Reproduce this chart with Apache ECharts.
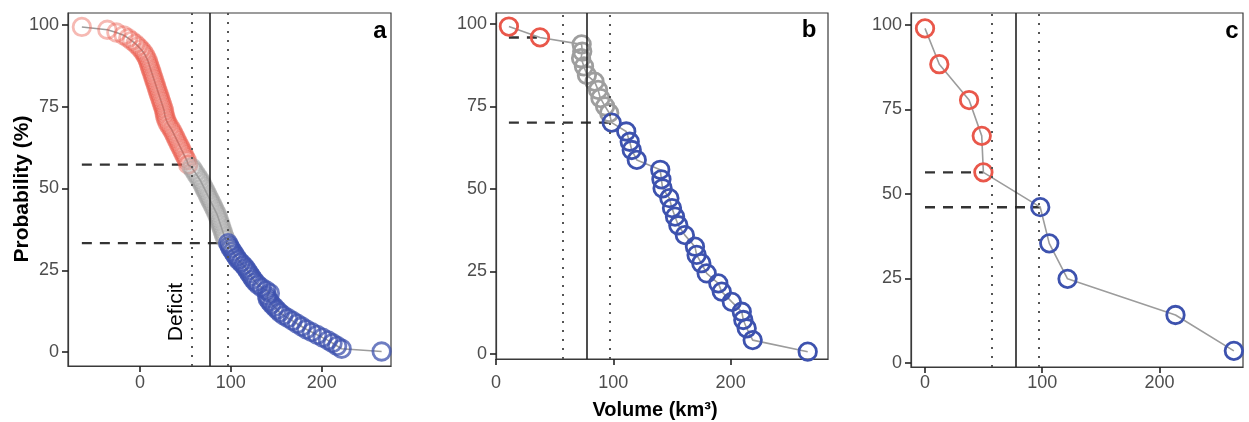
<!DOCTYPE html>
<html><head><meta charset="utf-8">
<script src="https://cdn.jsdelivr.net/npm/echarts@6/dist/echarts.min.js"></script>
<style>html,body{margin:0;padding:0;background:#fff}#c{width:1249px;height:422px}</style>
</head><body><div id="c"></div>
<script>
// ---------------- data ----------------
const refLines = [57, 77, 97];            // lower dotted, deficit (solid), upper dotted  (km3)
const xTicks = [0, 100, 200];
const yTicks = [0, 25, 50, 75, 100];
const panelLabels = ['a', 'b', 'c'];

// panel a
const aRedVol  = [-64, -36, -26, -18, -13, -9, -5, -2, 1, 3.5, 5.5, 7, 8.5, 9.5, 10.5, 11.5, 12.5, 13.5, 14.5, 15.5, 16.5, 17.5, 18.5, 19.5, 20.5, 21.5, 22.5, 23.5, 24.5, 25.5, 26.5, 27, 27.5, 28.5, 29.5, 31, 33, 35, 36.5, 38, 39.5, 41, 42.5, 44, 45.5, 47, 48.5, 50, 51.5, 53];
const aRedProb = [99.4, 98.55, 97.7, 96.85, 96.0, 95.15, 94.3, 93.45, 92.6, 91.75, 90.9, 90.05, 89.2, 88.35, 87.5, 86.65, 85.8, 84.95, 84.1, 83.25, 82.4, 81.55, 80.7, 79.85, 79.0, 78.15, 77.3, 76.45, 75.6, 74.75, 73.9, 73.05, 72.2, 71.35, 70.5, 69.65, 68.8, 67.95, 67.1, 66.25, 65.4, 64.55, 63.7, 62.85, 62.0, 61.15, 60.3, 59.45, 58.6, 57.3];
const aGreyVol  = [57, 59, 61, 63, 65, 67, 68.5, 70, 71.5, 73, 74.5, 76, 77.5, 79, 80.5, 82, 83.5, 85, 86, 87, 88, 89, 90, 91, 92, 93, 94.5];
const aGreyProb = [56.45, 55.6, 54.75, 53.9, 53.05, 52.2, 51.35, 50.5, 49.65, 48.8, 47.95, 47.1, 46.25, 45.4, 44.55, 43.7, 42.85, 42.0, 41.15, 40.3, 39.45, 38.6, 37.75, 36.9, 36.05, 35.2, 34.35];
const aBlueVol  = [97, 98.5, 100, 102, 104, 106, 108, 111, 114, 116.5, 118.5, 120.5, 122.5, 124.5, 127, 130, 134, 139, 143, 140, 140.5, 142.5, 145, 148, 151, 154, 158, 163, 168, 173, 178, 183, 189, 195, 201, 207, 212, 217, 222, 266];
const aBlueProb = [33.3, 32.45, 31.6, 30.75, 29.9, 29.05, 28.2, 27.35, 26.5, 25.65, 24.8, 23.95, 23.1, 22.25, 21.4, 20.55, 19.7, 18.85, 18.0, 17.15, 16.3, 15.45, 14.6, 13.75, 12.9, 12.05, 11.2, 10.35, 9.5, 8.65, 7.8, 6.95, 6.1, 5.25, 4.4, 3.55, 2.7, 1.85, 1.0, 0.15];

// panel b
const bRedVol  = [11, 37.5];
const bRedProb = [99.2, 95.9];
const bGreyVol  = [73, 73.5, 72.5, 75, 77.5, 84, 87, 89, 93, 96.5];
const bGreyProb = [93.8, 91.6, 89.6, 87.1, 84.5, 82.5, 80.0, 77.5, 75.0, 73.0];
const bBlueVol  = [98.6, 111, 114, 115.7, 120, 140, 141, 142, 147.8, 150, 152.6, 155.4, 161, 169.6, 171, 175, 179.6, 189.5, 192.4, 201, 209.5, 210.8, 213.7, 218.8, 265.7];
const bBlueProb = [70.1, 67.4, 64.3, 61.8, 58.8, 55.8, 52.9, 50.2, 47.2, 44.2, 41.6, 39.0, 36.0, 32.5, 30.0, 27.5, 24.4, 21.4, 18.9, 15.8, 12.8, 10.3, 7.8, 4.2, 0.7];

// panel c
const cRedVol  = [0, 12.2, 37.6, 48.4, 49.8];
const cRedProb = [99.0, 88.4, 77.8, 67.2, 56.4];
const cGreyVol  = [];
const cGreyProb = [];
const cBlueVol  = [98.3, 106, 121.6, 213.7, 263.5];
const cBlueProb = [46.1, 35.4, 24.9, 14.2, 3.6];

// ---------------- chart ----------------
const RED = '#E9574A', GREY = '#9E9E9E', BLUE = '#3D52AE';
const FONT = 'Liberation Sans, Arial, Helvetica, sans-serif';
const pts = (xs, ys) => xs.map((x, i) => [x, ys[i]]);

const panels = [
  { red: pts(aRedVol, aRedProb), grey: pts(aGreyVol, aGreyProb), blue: pts(aBlueVol, aBlueProb),
    grid: { left: 68, top: 13, width: 323, height: 353 }, xr: [-79.25, 276.3], yr: [-4.28, 103.67],
    op: [0.42, 0.45, 0.75], xm: 8, ym: 9 },
  { red: pts(bRedVol, bRedProb), grey: pts(bGreyVol, bGreyProb), blue: pts(bBlueVol, bBlueProb),
    grid: { left: 496, top: 13, width: 332, height: 346 }, xr: [0, 283], yr: [-1.52, 103.3],
    op: [1, 1, 1], xm: 15, ym: 9 },
  { red: pts(cRedVol, cRedProb), grey: pts(cGreyVol, cGreyProb), blue: pts(cBlueVol, cBlueProb),
    grid: { left: 911, top: 13, width: 332, height: 354 }, xr: [-11.95, 271.3], yr: [-1.18, 103.55],
    op: [1, 1, 1], xm: 7, ym: 9 }
];

const grids = [], xAxes = [], yAxes = [], series = [];
panels.forEach((p, k) => {
  grids.push(Object.assign({ show: true, borderColor: '#3a3a3a', borderWidth: 1.2 }, p.grid));
  xAxes.push({ type: 'value', gridIndex: k, min: p.xr[0], max: p.xr[1],
    axisLine: { show: true, onZero: false, lineStyle: { color: '#3a3a3a', width: 1.2 } }, splitLine: { show: false },
    axisTick: { show: true, customValues: xTicks, length: 6, lineStyle: { color: '#222', width: 1.6 } },
    axisLabel: { customValues: xTicks, fontSize: 18, color: '#4d4d4d', fontFamily: FONT, margin: p.xm } });
  yAxes.push({ type: 'value', gridIndex: k, min: p.yr[0], max: p.yr[1],
    axisLine: { show: true, onZero: false, lineStyle: { color: '#3a3a3a', width: 1.2 } }, splitLine: { show: false },
    axisTick: { show: true, customValues: yTicks, length: 6, lineStyle: { color: '#222', width: 1.6 } },
    axisLabel: { customValues: yTicks, fontSize: 18, color: '#4d4d4d', fontFamily: FONT, margin: p.ym } });

  const all = p.red.concat(p.grey, p.blue);
  const xmin = Math.min(...all.map(d => d[0]));
  const lastRed = p.red[p.red.length - 1];
  const firstBlue = p.blue[0];
  const base = { xAxisIndex: k, yAxisIndex: k, silent: true, animation: false };

  // reference vertical lines
  series.push(Object.assign({}, base, {
    type: 'line', data: [], z: 1,
    markLine: { silent: true, symbol: ['none', 'none'], label: { show: false }, animation: false,
      data: [
        { xAxis: refLines[0], lineStyle: { color: '#555', width: 2, type: [2, 7] } },
        { xAxis: refLines[1], lineStyle: { color: '#222', width: 1.6, type: 'solid' } },
        { xAxis: refLines[2], lineStyle: { color: '#555', width: 2, type: [2, 7] } }
      ] }
  }));
  // dashed horizontal lines
  [lastRed, firstBlue].forEach(pt => {
    series.push(Object.assign({}, base, {
      type: 'line', z: 2, showSymbol: false, symbol: 'none',
      data: [[xmin, pt[1]], [pt[0], pt[1]]],
      lineStyle: { color: '#333', width: 2.4, type: [10, 8] }
    }));
  });
  // connecting line
  series.push(Object.assign({}, base, {
    type: 'line', z: 3, showSymbol: false, symbol: 'none', data: all,
    lineStyle: { color: '#9c9c9c', width: 1.6 }
  }));
  // hollow circles
  [[p.red, RED, p.op[0]], [p.grey, GREY, p.op[1]], [p.blue, BLUE, p.op[2]]].forEach(([d, col, op]) => {
    if (!d.length) return;
    series.push(Object.assign({}, base, {
      type: 'scatter', z: 4, data: d, symbol: 'circle', symbolSize: 17.5,
      itemStyle: { color: 'rgba(0,0,0,0)', borderColor: col, borderWidth: 2.8, opacity: op }
    }));
  });
});

const chart = echarts.init(document.getElementById('c'), null, { renderer: 'canvas' });
chart.setOption({
  animation: false,
  backgroundColor: '#fff',
  grid: grids, xAxis: xAxes, yAxis: yAxes, series: series,
  graphic: [
    { type: 'text', x: 22, y: 189, rotation: Math.PI / 2,
      style: { text: 'Probability (%)', font: 'bold 21px ' + FONT, fill: '#000', textAlign: 'center', verticalAlign: 'middle' } },
    { type: 'text', x: 655, y: 410,
      style: { text: 'Volume (km³)', font: 'bold 20px ' + FONT, fill: '#000', textAlign: 'center', verticalAlign: 'middle' } },
    { type: 'text', x: 176, y: 312, rotation: Math.PI / 2,
      style: { text: 'Deficit', font: '21px ' + FONT, fill: '#000', textAlign: 'center', verticalAlign: 'middle' } },
    { type: 'text', x: 380, y: 31, style: { text: panelLabels[0], font: 'bold 24px ' + FONT, fill: '#000', textAlign: 'center', verticalAlign: 'middle' } },
    { type: 'text', x: 809, y: 30, style: { text: panelLabels[1], font: 'bold 24px ' + FONT, fill: '#000', textAlign: 'center', verticalAlign: 'middle' } },
    { type: 'text', x: 1232, y: 31, style: { text: panelLabels[2], font: 'bold 24px ' + FONT, fill: '#000', textAlign: 'center', verticalAlign: 'middle' } }
  ]
});
</script></body></html>
